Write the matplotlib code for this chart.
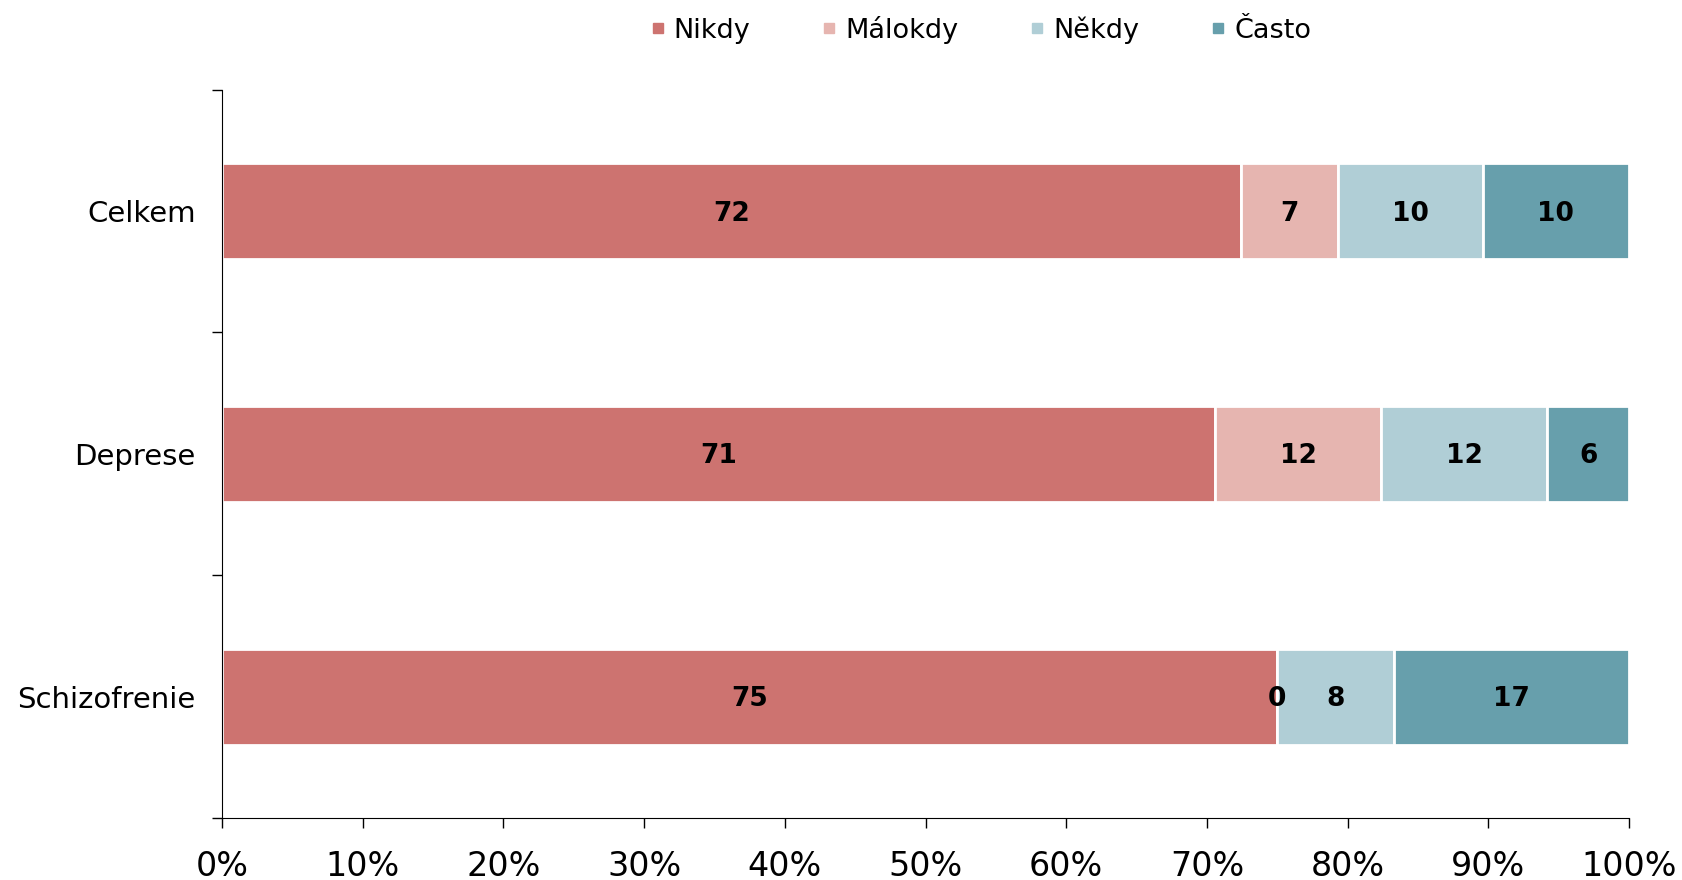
import matplotlib
matplotlib.use("Agg")
import matplotlib.pyplot as plt
from matplotlib.lines import Line2D
import numpy as np

categories = ["Celkem", "Deprese", "Schizofrenie"]
series = ["Nikdy", "Málokdy", "Někdy", "Často"]
nikdy = [72.4, 70.6, 75.0]
malokdy = [6.9, 11.8, 0.0]
nekdy = [10.3, 11.8, 8.3]
casto = [10.4, 5.8, 16.7]
colors = ["#CD7370", "#E6B5B0", "#B0CED6", "#679FAC"]
xticks = [0, 10, 20, 30, 40, 50, 60, 70, 80, 90, 100]

plt.rcParams['font.family'] = ['DejaVu Sans']
fig = plt.figure(figsize=(16.82, 8.8), dpi=100)
ax = fig.add_axes([0.132, 0.0705, 0.8365, 0.8275])

data = [nikdy, malokdy, nekdy, casto]
y = np.arange(len(categories))
left = np.zeros(len(categories))
for vals, c, name in zip(data, colors, series):
    vals = np.array(vals)
    ax.barh(y, vals, left=left, height=0.395, color=c, edgecolor="white",
            linewidth=2, label=name)
    for yi, (l, v) in enumerate(zip(left, vals)):
        ax.text(l + v / 2, yi + 0.01, f"{v:.0f}", ha="center", va="center",
                fontsize=19, fontweight="bold", color="black")
    left = left + vals

ax.set_xlim(0, 100)
ax.set_ylim(2.5, -0.5)
ax.set_xticks(xticks)
ax.set_xticklabels([f"{t}%" for t in xticks], fontsize=24)
ax.set_yticks(y)
ax.set_yticklabels(categories, fontsize=21)
ax.tick_params(axis="y", which="major", length=0, pad=19)
ax.set_yticks([-0.5, 0.5, 1.5, 2.5], minor=True)
ax.tick_params(axis="y", which="minor", length=7, width=1)
ax.tick_params(axis="x", length=7, width=1, pad=16)
for s in ["top", "right"]:
    ax.spines[s].set_visible(False)

handles = [Line2D([0], [0], marker="s", linestyle="none", markersize=6.5,
                  markerfacecolor=c, markeredgecolor=c) for c in colors]
fig.legend(handles, series, loc="center", bbox_to_anchor=(0.582, 0.966),
           ncol=4, frameon=False, fontsize=19.5, columnspacing=2.5,
           handletextpad=0.2, handlelength=0.8)

fig.savefig("out.png", dpi=100)
